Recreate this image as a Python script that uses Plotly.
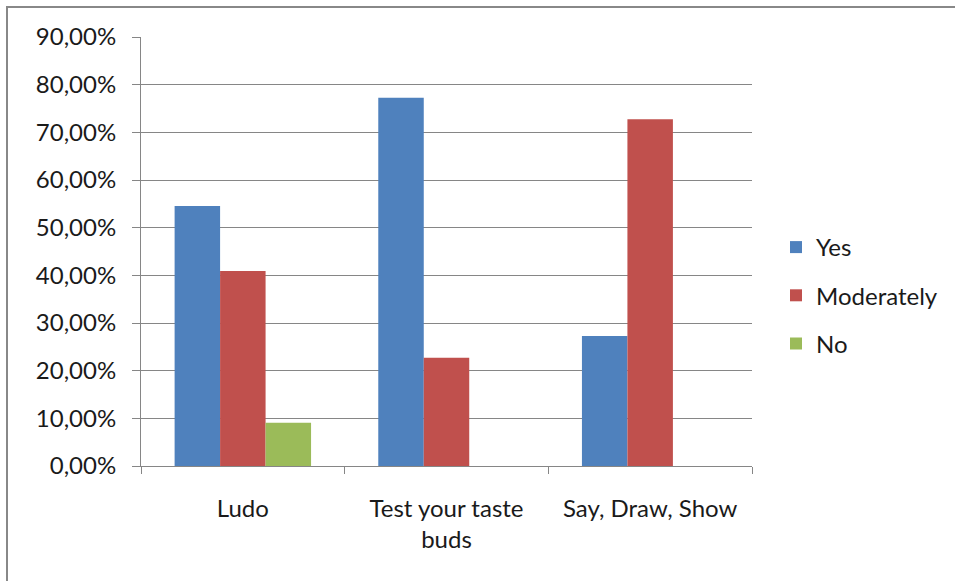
import plotly.graph_objects as go

# Survey answers per game (share of respondents)
games = ["Ludo", "Test your taste<br>buds", "Say, Draw, Show"]
yes = [0.5455, 0.7727, 0.2727]
moderately = [0.4091, 0.2273, 0.7273]
no = [0.0909, None, None]

series = [
    ("Yes", yes, "#4F81BD"),
    ("Moderately", moderately, "#C0504D"),
    ("No", no, "#9BBB59"),
]

FONT = "Lato"
GRID = "#868686"
TEXT = "#1a1a1a"
SIZE = 24

fig = go.Figure()
for name, vals, color in series:
    fig.add_trace(go.Bar(
        name=name, x=games, y=vals,
        marker=dict(color=color, line=dict(width=0)),
        legendgroup=name,
    ))

W, H = 955, 581
L, R, T, B = 141, 203, 37, 115
pw, ph = W - L - R, H - T - B

fig.update_layout(
    width=W, height=H,
    margin=dict(l=L, r=R, t=T, b=B, pad=0, autoexpand=False),
    paper_bgcolor="white", plot_bgcolor="white",
    barmode="group", bargap=0.33, bargroupgap=0,
    separators=", ",
    font=dict(family=FONT, size=SIZE, color=TEXT),
    showlegend=True,
    legend=dict(
        x=(776 - L) / pw, y=(466 - 225) / ph, xanchor="left", yanchor="top",
        font=dict(family=FONT, size=SIZE, color=TEXT),
        traceorder="grouped", tracegroupgap=14,
        bgcolor="rgba(0,0,0,0)", borderwidth=0,
    ),
    xaxis=dict(
        showline=True, linecolor=GRID, linewidth=1,
        ticks="outside", tickson="boundaries", ticklen=7, tickcolor=GRID,
        showgrid=False, ticklabelstandoff=21,
        tickfont=dict(family=FONT, size=SIZE, color=TEXT),
        fixedrange=True,
    ),
    yaxis=dict(
        range=[0, 0.9], dtick=0.1, tick0=0, tickformat=".2%",
        showline=True, linecolor=GRID, linewidth=1,
        ticks="outside", ticklen=8, tickcolor=GRID,
        showgrid=True, gridcolor=GRID, gridwidth=1,
        zeroline=False, ticklabelstandoff=11,
        tickfont=dict(family=FONT, size=SIZE, color=TEXT),
        fixedrange=True,
    ),
    shapes=[dict(
        type="rect", xref="paper", yref="paper",
        x0=(7 - L) / pw, x1=(962 - L) / pw,
        y0=(466 - 590) / ph, y1=(466 - 7) / ph,
        line=dict(color="#888888", width=2), fillcolor="rgba(0,0,0,0)",
        layer="below",
    )],
)

fig.write_html("out.html")
